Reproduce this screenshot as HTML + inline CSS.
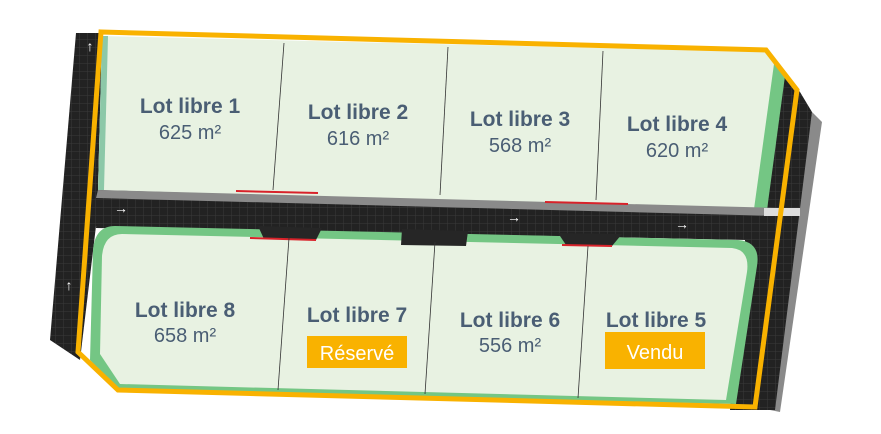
<!DOCTYPE html>
<html><head><meta charset="utf-8"><style>
html,body{margin:0;padding:0;background:#fff;width:881px;height:434px;overflow:hidden}
svg{display:block}
text{font-family:"Liberation Sans",sans-serif;fill:#4a5e74;text-anchor:middle}
.t{font-weight:bold;font-size:21px}
.a{font-size:20px}
</style></head><body>
<svg width="881" height="434" viewBox="0 0 881 434">
<defs>
<pattern id="g" width="8" height="8" patternUnits="userSpaceOnUse">
<rect width="8" height="8" fill="#222"/><path d="M8 0V8H0" fill="none" stroke="#3a3a3a" stroke-width="1"/>
</pattern>
</defs>
<polygon points="812,112 822,122 780,412 770,410" fill="#8a8a8a"/>
<polygon points="76,33 102,33 98,190 766,210 784,74 800,92 812,112 775,410 730,410 745,240 96,226 80,360 50,340" fill="url(#g)"/>
<polygon points="98,190 780,208 778,240 96,228" fill="url(#g)"/>
<polygon points="102,36 768,52 784,76 766,210 98,190" fill="#e8f2e2"/>
<polygon points="102,36 108,36 104,190 98,190" fill="#8cc8a8"/>
<polygon points="774,64 785,76 767,210 754,209" fill="#74c684"/>
<polygon points="98,190 780,208 779,216 96,198" fill="#8a8a8a"/>
<path d="M115,226 L738,240 Q761,242 757,266 L736,404 L118,390 L90,360 L93,250 Q95,226 115,226Z" fill="#74c684"/>
<path d="M122,234 L732,248 Q750,250 747,272 L726,400 L120,384 L100,354 L102,256 Q104,234 122,234Z" fill="#e8f2e2"/>
<polygon points="258,226 322,228 316,240 264,239" fill="#262626"/>
<polygon points="402,229 468,231 466,246 401,245" fill="#262626"/>
<polygon points="558,233 622,234 612,246 566,245" fill="#262626"/>
<g stroke="#d8222a" stroke-width="2">
<line x1="236" y1="191" x2="318" y2="193"/><line x1="250" y1="238" x2="316" y2="240"/>
<line x1="545" y1="202" x2="628" y2="204"/><line x1="562" y1="245" x2="612" y2="246"/>
</g>
<g stroke="#333" stroke-width="0.8">
<line x1="284" y1="43" x2="273" y2="190"/><line x1="448" y1="47" x2="440" y2="195"/><line x1="603" y1="51" x2="596" y2="200"/>
<line x1="289" y1="238" x2="278" y2="390"/><line x1="435" y1="242" x2="425" y2="394"/><line x1="588" y1="246" x2="578" y2="398"/>
</g>
<rect x="764" y="208" width="36" height="8" fill="#ddd"/>
<g font-size="14" font-weight="bold"><text x="121" y="213" style="fill:#fff">→</text><text x="514" y="222" style="fill:#fff">→</text><text x="682" y="229" style="fill:#fff">→</text><text x="90" y="51" style="fill:#fff">↑</text><text x="69" y="290" style="fill:#fff">↑</text></g>
<polygon points="101,32 766,50 797,90 755,407 118,390 78,352" fill="none" stroke="#f9b200" stroke-width="5" stroke-linejoin="miter"/>
<text class="t" x="190" y="113">Lot libre 1</text><text class="a" x="190" y="139">625 m²</text>
<text class="t" x="358" y="119">Lot libre 2</text><text class="a" x="358" y="145">616 m²</text>
<text class="t" x="520" y="126">Lot libre 3</text><text class="a" x="520" y="152">568 m²</text>
<text class="t" x="677" y="131">Lot libre 4</text><text class="a" x="677" y="157">620 m²</text>
<text class="t" x="185" y="317">Lot libre 8</text><text class="a" x="185" y="342">658 m²</text>
<text class="t" x="357" y="322">Lot libre 7</text>
<rect x="307" y="336" width="100" height="32" fill="#f9b200"/><text x="357" y="360" style="fill:#fff;font-size:20px">Réservé</text>
<text class="t" x="510" y="327">Lot libre 6</text><text class="a" x="510" y="352">556 m²</text>
<text class="t" x="656" y="327">Lot libre 5</text>
<rect x="605" y="332" width="100" height="37" fill="#f9b200"/><text x="655" y="359" style="fill:#fff;font-size:20px">Vendu</text>
</svg>
</body></html>
